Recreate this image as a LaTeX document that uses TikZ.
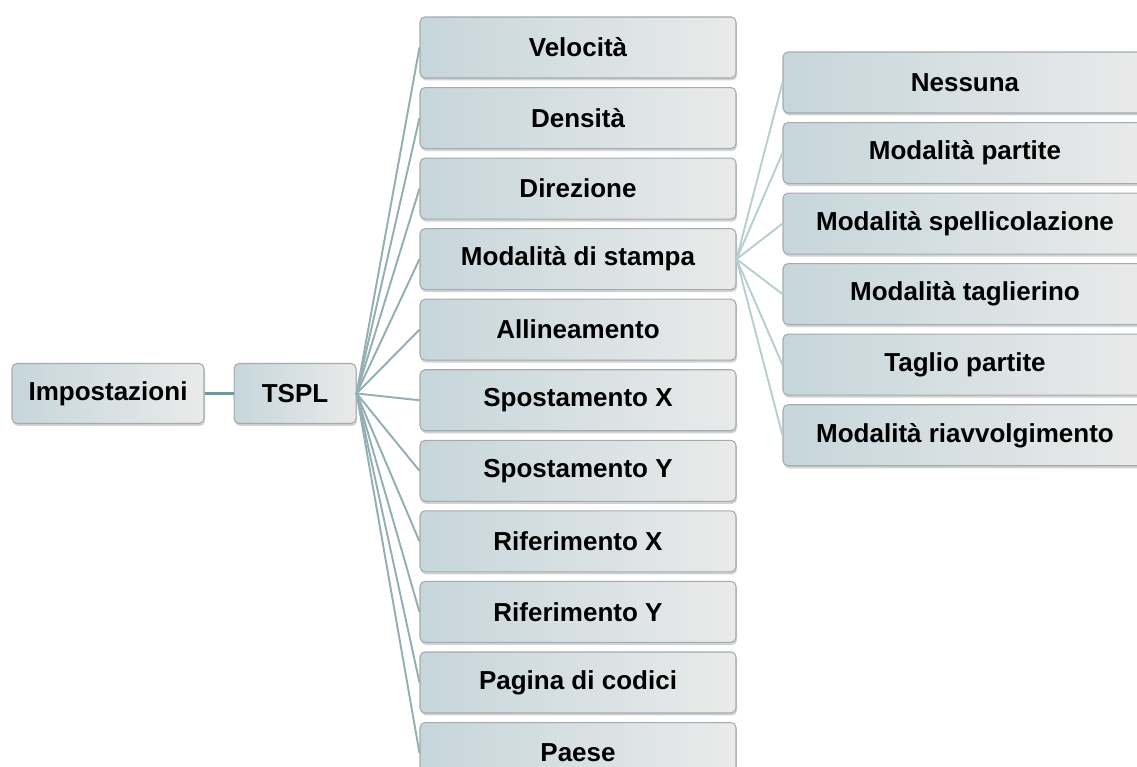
\documentclass[tikz,border=0pt]{standalone}
\usepackage{fontspec}
\setmainfont{Liberation Sans}
\usetikzlibrary{positioning, shadows}
\definecolor{boxleft}{HTML}{C6D6DB}
\definecolor{boxright}{HTML}{EAEAEA}
\definecolor{boxline}{HTML}{A3ABAE}
\definecolor{linkdark}{HTML}{6E989C}
\definecolor{linkmid}{HTML}{93AFB2}
\definecolor{linklight}{HTML}{B9CED1}

\begin{document}
\begin{tikzpicture}[
    entry/.style={draw=boxline, line width=0.6pt, rounded corners=0.1cm, left color=boxleft, right color=boxright,
      minimum height=1.22cm, inner sep=0pt, align=center, font=\fontsize{14.8pt}{17pt}\selectfont\bfseries,
      drop shadow={shadow xshift=0.02cm, shadow yshift=-0.05cm, opacity=0.25, fill=black!70}},
    root/.style={entry, minimum width=3.84cm, minimum height=1.2cm},
    branch/.style={entry, minimum width=2.44cm, minimum height=1.2cm},
    setting/.style={entry, minimum width=6.32cm},
    mode/.style={entry, minimum width=7.28cm},
    trunk/.style={draw=linkdark, line width=1.6pt},
    link/.style={draw=linkmid, line width=1.1pt},
    sublink/.style={draw=linklight, line width=1.1pt}
  ]
  \clip (0,0) rectangle (22.74,15.34);

  \node[root] at (2.16,7.47)            (imp)  {Impostazioni};
  \node[branch, right=0.58cm of imp]    (tspl) {TSPL};

  \node[setting] at (11.56,14.39)       (vel)   {Velocità};
  \node[setting, below=0.17cm of vel]   (dens)  {Densità};
  \node[setting, below=0.17cm of dens]  (dir)   {Direzione};
  \node[setting, below=0.17cm of dir]   (stamp) {Modalità di stampa};
  \node[setting, below=0.17cm of stamp] (all)   {Allineamento};
  \node[setting, below=0.17cm of all]   (spx)   {Spostamento X};
  \node[setting, below=0.17cm of spx]   (spy)   {Spostamento Y};
  \node[setting, below=0.17cm of spy]   (rifx)  {Riferimento X};
  \node[setting, below=0.17cm of rifx]  (rify)  {Riferimento Y};
  \node[setting, below=0.17cm of rify]  (cod)   {Pagina di codici};
  \node[setting, below=0.17cm of cod]   (paese) {Paese};

  \node[mode] at (19.3,13.69)           (ness)  {Nessuna};
  \node[mode, below=0.17cm of ness]     (part)  {Modalità partite};
  \node[mode, below=0.17cm of part]     (spell) {Modalità spellicolazione};
  \node[mode, below=0.17cm of spell]    (tagl)  {Modalità taglierino};
  \node[mode, below=0.17cm of tagl]     (taglp) {Taglio partite};
  \node[mode, below=0.17cm of taglp]    (riavv) {Modalità riavvolgimento};

  \draw[trunk] (imp) -- (tspl);

  \draw[link] (tspl.east) -- (vel.west);
  \draw[link] (tspl.east) -- (dens.west);
  \draw[link] (tspl.east) -- (dir.west);
  \draw[link] (tspl.east) -- (stamp.west);
  \draw[link] (tspl.east) -- (all.west);
  \draw[link] (tspl.east) -- (spx.west);
  \draw[link] (tspl.east) -- (spy.west);
  \draw[link] (tspl.east) -- (rifx.west);
  \draw[link] (tspl.east) -- (rify.west);
  \draw[link] (tspl.east) -- (cod.west);
  \draw[link] (tspl.east) -- (paese.west);

  \draw[sublink] (stamp.east) -- (ness.west);
  \draw[sublink] (stamp.east) -- (part.west);
  \draw[sublink] (stamp.east) -- (spell.west);
  \draw[sublink] (stamp.east) -- (tagl.west);
  \draw[sublink] (stamp.east) -- (taglp.west);
  \draw[sublink] (stamp.east) -- (riavv.west);
\end{tikzpicture}
\end{document}
